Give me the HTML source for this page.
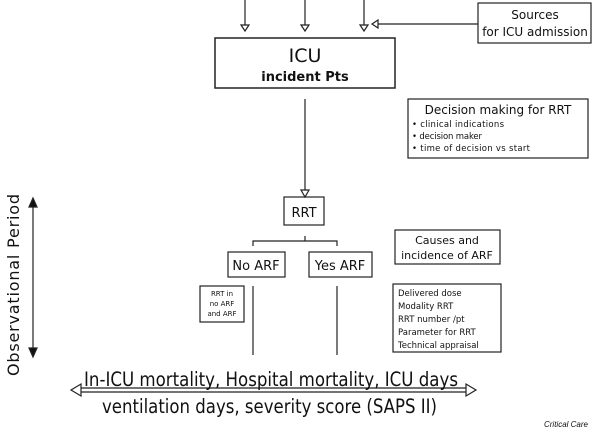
<!DOCTYPE html>
<html><head><style>
body{margin:0;width:600px;height:433px;background:#fff;overflow:hidden;font-family:"DejaVu Sans","Liberation Sans",sans-serif;}
</style></head><body>
<svg width="600" height="433" viewBox="0 0 600 433" xmlns="http://www.w3.org/2000/svg" font-family="DejaVu Sans, Liberation Sans, sans-serif">
<g stroke="#222" stroke-width="1.2" fill="none">
<line x1="245" y1="0" x2="245" y2="25"/><polygon points="241,25 249,25 245,31" fill="#fff"/>
<line x1="305" y1="0" x2="305" y2="25"/><polygon points="301,25 309,25 305,31" fill="#fff"/>
<line x1="364" y1="0" x2="364" y2="25"/><polygon points="360,25 368,25 364,31" fill="#fff"/>
<line x1="478" y1="24" x2="378" y2="24"/><polygon points="378,20 378,28 372,24" fill="#fff"/>
<rect x="478" y="3" width="113" height="40"/>
<rect x="215" y="38" width="180" height="50" stroke-width="1.5"/>
<rect x="408" y="99" width="180" height="59"/>
<line x1="305" y1="99" x2="305" y2="190"/><polygon points="301,190 309,190 305,197" fill="#fff"/>
<rect x="284" y="197" width="40" height="28"/>
<polyline points="253,246 253,241 337,241 337,246"/><line x1="305" y1="236" x2="305" y2="241"/>
<rect x="228" y="252" width="57" height="25"/>
<rect x="309" y="252" width="63" height="25"/>
<rect x="395" y="230" width="105" height="34"/>
<rect x="200" y="286" width="44" height="36"/>
<line x1="253" y1="286" x2="253" y2="355"/>
<line x1="337" y1="286" x2="337" y2="355"/>
<rect x="393" y="284" width="108" height="68"/>
<line x1="33" y1="205" x2="33" y2="350"/>
<polygon points="29,207 37,207 33,198" fill="#111"/>
<polygon points="29,348 37,348 33,357" fill="#111"/>
<line x1="80" y1="388" x2="467" y2="388"/><line x1="80" y1="392" x2="467" y2="392"/>
<polygon points="81,384 81,396 71,390" fill="#fff"/>
<polygon points="466,384 466,396 476,390" fill="#fff"/>
</g>
<g fill="#111">
<text x="535" y="19" font-size="12" text-anchor="middle">Sources</text>
<text x="535" y="36" font-size="12" text-anchor="middle">for ICU admission</text>
<text x="305" y="62" font-size="19" text-anchor="middle">ICU</text>
<text x="305" y="81" font-size="13" font-weight="bold" text-anchor="middle">incident Pts</text>
<text x="498" y="114" font-size="12" text-anchor="middle">Decision making for RRT</text>
<text x="412" y="127" font-size="8.5" textLength="92">• clinical indications</text>
<text x="412" y="139" font-size="8.5" textLength="70">• decision maker</text>
<text x="412" y="151" font-size="8.5" textLength="118">• time of decision vs start</text>
<text x="304" y="217" font-size="13" text-anchor="middle">RRT</text>
<text x="256" y="270" font-size="13" text-anchor="middle">No ARF</text>
<text x="340" y="270" font-size="13" text-anchor="middle">Yes ARF</text>
<text x="447" y="244" font-size="11" text-anchor="middle">Causes and</text>
<text x="447" y="259" font-size="11" text-anchor="middle">incidence of ARF</text>
<text x="222" y="296" font-size="7" text-anchor="middle">RRT in</text>
<text x="222" y="306" font-size="7" text-anchor="middle">no ARF</text>
<text x="222" y="316" font-size="7" text-anchor="middle">and ARF</text>
<text x="398" y="296" font-size="8.5">Delivered dose</text>
<text x="398" y="309" font-size="8.5">Modality RRT</text>
<text x="398" y="322" font-size="8.5">RRT number /pt</text>
<text x="398" y="335" font-size="8.5">Parameter for RRT</text>
<text x="398" y="348" font-size="8.5">Technical appraisal</text>
<text transform="translate(19,285) rotate(-90)" font-size="16" text-anchor="middle" textLength="182">Observational Period</text>
<text x="84" y="386" font-size="19.5" textLength="374" lengthAdjust="spacingAndGlyphs">In-ICU mortality, Hospital mortality, ICU days</text>
<text x="102" y="413" font-size="19.5" textLength="335" lengthAdjust="spacingAndGlyphs">ventilation days, severity score (SAPS II)</text>
<text x="588" y="427" font-size="8" font-style="italic" text-anchor="end" font-family="Liberation Sans, sans-serif">Critical Care</text>
</g>
</svg>
</body></html>
